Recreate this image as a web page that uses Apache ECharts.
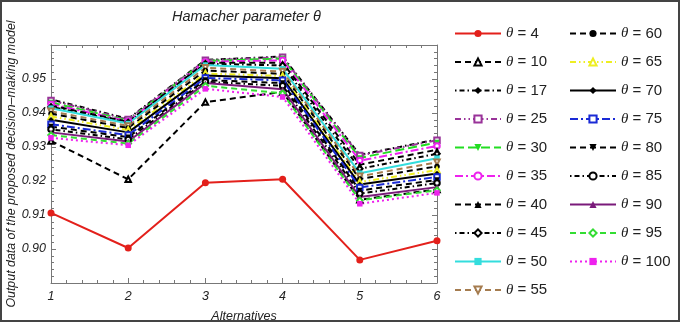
<!DOCTYPE html>
<html>
<head>
<meta charset="utf-8">
<script src="https://cdn.jsdelivr.net/npm/echarts@6/dist/echarts.min.js"></script>
<style>
html,body{margin:0;padding:0;background:#fff;}
#c{width:685px;height:325px;}
</style>
</head>
<body>
<div id="c"></div>
<script>
// ---- data ----
const alternatives = [1, 2, 3, 4, 5, 6];
const yTicks = [0.90, 0.91, 0.92, 0.93, 0.94, 0.95];
const theta4   = [0.9106, 0.9003, 0.9195, 0.9205, 0.8968, 0.9024];
const theta10  = [0.9318, 0.9205, 0.9432, 0.9462, 0.9145, 0.9175];
const theta17  = [0.9440, 0.9383, 0.9556, 0.9566, 0.9277, 0.9322];
const theta25  = [0.9437, 0.9381, 0.9555, 0.9564, 0.9275, 0.9320];
const theta30  = [0.9431, 0.9378, 0.9553, 0.9560, 0.9268, 0.9313];
const theta35  = [0.9426, 0.9376, 0.9551, 0.9555, 0.9260, 0.9303];
const theta40  = [0.9422, 0.9374, 0.9548, 0.9548, 0.9248, 0.9292];
const theta45  = [0.9418, 0.9372, 0.9545, 0.9540, 0.9236, 0.9280];
const theta50  = [0.9414, 0.9369, 0.9541, 0.9530, 0.9223, 0.9267];
const theta55  = [0.9405, 0.9362, 0.9533, 0.9522, 0.9214, 0.9255];
const theta60  = [0.9398, 0.9356, 0.9525, 0.9515, 0.9206, 0.9243];
const theta65  = [0.9390, 0.9350, 0.9516, 0.9509, 0.9197, 0.9232];
const theta70  = [0.9380, 0.9343, 0.9510, 0.9502, 0.9190, 0.9222];
const theta75  = [0.9367, 0.9335, 0.9503, 0.9496, 0.9181, 0.9212];
const theta80  = [0.9360, 0.9329, 0.9497, 0.9488, 0.9172, 0.9203];
const theta85  = [0.9352, 0.9322, 0.9492, 0.9480, 0.9163, 0.9194];
const theta90  = [0.9343, 0.9316, 0.9488, 0.9470, 0.9153, 0.9182];
const theta95  = [0.9335, 0.9310, 0.9480, 0.9458, 0.9143, 0.9173];
const theta100 = [0.9327, 0.9305, 0.9471, 0.9447, 0.9133, 0.9165];

// ---- styles ----
const DASH = [6, 4], DOTDASH = [1.5, 3, 5, 3], DASHDOTDOT = [6, 3, 1.5, 3, 1.5, 3],
      LONGDASH = [9, 4], DASHDOT = [8, 3, 2, 3], DOT = [2, 3];
const defs = [
  {n: '4',   d: theta4,   c: '#e3201b', t: 'solid',    s: 'circle'},
  {n: '10',  d: theta10,  c: '#000000', t: DASH,       s: 'emptyTriangle'},
  {n: '17',  d: theta17,  c: '#000000', t: DOTDASH,    s: 'diamond'},
  {n: '25',  d: theta25,  c: '#993399', t: DASHDOTDOT, s: 'emptyRect'},
  {n: '30',  d: theta30,  c: '#22dd22', t: LONGDASH,   s: 'triangle', r: 180},
  {n: '35',  d: theta35,  c: '#ee22ee', t: DASHDOT,    s: 'emptyCircle'},
  {n: '40',  d: theta40,  c: '#000000', t: DASH,       s: 'triangle'},
  {n: '45',  d: theta45,  c: '#000000', t: DOTDASH,    s: 'emptyDiamond'},
  {n: '50',  d: theta50,  c: '#33dddd', t: 'solid',    s: 'rect'},
  {n: '55',  d: theta55,  c: '#a57c4f', t: DASH,       s: 'emptyTriangle', r: 180},
  {n: '60',  d: theta60,  c: '#000000', t: DASH,       s: 'circle'},
  {n: '65',  d: theta65,  c: '#eeee22', t: DASHDOTDOT, s: 'emptyTriangle'},
  {n: '70',  d: theta70,  c: '#000000', t: 'solid',    s: 'diamond'},
  {n: '75',  d: theta75,  c: '#1a2ad6', t: DASHDOT,    s: 'emptyRect'},
  {n: '80',  d: theta80,  c: '#000000', t: DASH,       s: 'triangle', r: 180},
  {n: '85',  d: theta85,  c: '#000000', t: DOTDASH,    s: 'emptyCircle'},
  {n: '90',  d: theta90,  c: '#7a1a7a', t: 'solid',    s: 'triangle'},
  {n: '95',  d: theta95,  c: '#33dd33', t: DASH,       s: 'emptyDiamond'},
  {n: '100', d: theta100, c: '#ee22ee', t: DOT,        s: 'rect'}
];

const FONT = 'Liberation Sans, Arial, sans-serif';
const series = defs.map(o => ({
  name: 'θ = ' + o.n,
  type: 'line',
  data: alternatives.map((x, i) => [x, o.d[i]]),
  symbol: o.s,
  symbolSize: o.n === '4' ? 7 : 5.5,
  symbolRotate: o.r || 0,
  color: o.c,
  lineStyle: {color: o.c, width: 2, type: o.t},
  itemStyle: {color: o.c, borderWidth: 1},
  animation: false
}));

const legendText = {
  fontSize: 15, fontFamily: FONT, color: '#222',
  rich: {
    i: {fontStyle: 'italic', fontFamily: 'Liberation Serif, serif', fontSize: 15, color: '#222', lineHeight: 16},
    n: {fontSize: 15, fontFamily: FONT, color: '#222', lineHeight: 16}
  }
};
const legendFmt = name => '{i|θ}{n| = ' + name.split('= ')[1] + '}';
const legendBase = {
  orient: 'vertical', top: 26, itemWidth: 46, itemHeight: 9, itemGap: 13.5,
  textStyle: legendText, formatter: legendFmt, selectedMode: false, padding: 0
};

const axisLine = {show: true, lineStyle: {color: '#777', width: 1}};
const tickStyle = {lineStyle: {color: '#777', width: 1}};

const option = {
  backgroundColor: '#fff',
  animation: false,
  title: {
    text: 'Hamacher parameter θ', left: 167, top: 4,
    textStyle: {fontSize: 14.5, fontStyle: 'italic', fontWeight: 'normal', fontFamily: FONT, color: '#222'}
  },
  grid: {left: 51, right: 248, top: 45, bottom: 42, outerBoundsMode: 'none', containLabel: false},
  legend: [
    Object.assign({}, legendBase, {left: 454, data: defs.slice(0, 10).map(o => 'θ = ' + o.n)}),
    Object.assign({}, legendBase, {left: 569, data: defs.slice(10).map(o => 'θ = ' + o.n)})
  ],
  xAxis: [
    {
      type: 'value', min: 1, max: 6, interval: 1, position: 'bottom',
      name: 'Alternatives', nameLocation: 'middle', nameGap: 27, nameMoveOverlap: false,
      nameTextStyle: {fontSize: 12.5, fontStyle: 'italic', fontFamily: FONT, color: '#222'},
      axisLine: axisLine,
      axisTick: Object.assign({inside: true, length: 5}, tickStyle),
      minorTick: Object.assign({show: true, splitNumber: 5, length: 3}, tickStyle),
      splitLine: {show: false},
      axisLabel: {fontSize: 12.5, fontStyle: 'italic', fontFamily: FONT, color: '#222', margin: 7,
        formatter: v => String(Math.round(v))}
    },
    {
      type: 'value', min: 1, max: 6, interval: 1, position: 'top',
      axisLine: axisLine,
      axisTick: Object.assign({inside: true, length: 5}, tickStyle),
      minorTick: Object.assign({show: true, splitNumber: 5, length: 3}, tickStyle),
      splitLine: {show: false}, axisLabel: {show: false}
    }
  ],
  yAxis: [
    {
      type: 'value', min: 0.89, max: 0.96, interval: 0.01, position: 'left',
      name: 'Output data of the proposed decision–making model', nameLocation: 'middle',
      nameGap: 33, nameMoveOverlap: false,
      nameTextStyle: {fontSize: 12.4, fontStyle: 'italic', fontFamily: FONT, color: '#222'},
      axisLine: axisLine,
      axisTick: Object.assign({inside: true, length: 5}, tickStyle),
      minorTick: Object.assign({show: true, splitNumber: 5, length: 3}, tickStyle),
      splitLine: {show: false},
      axisLabel: {fontSize: 12.5, fontStyle: 'italic', fontFamily: FONT, color: '#222', margin: 5,
        formatter: v => {
          const r = Math.round(v * 100) / 100;
          return yTicks.some(t => Math.abs(t - r) < 1e-6) ? r.toFixed(2) : '';
        }}
    },
    {
      type: 'value', min: 0.89, max: 0.96, interval: 0.01, position: 'right',
      axisLine: axisLine,
      axisTick: Object.assign({inside: true, length: 5}, tickStyle),
      minorTick: Object.assign({show: true, splitNumber: 5, length: 3}, tickStyle),
      splitLine: {show: false}, axisLabel: {show: false}
    }
  ],
  graphic: [{
    type: 'rect', shape: {x: 1, y: 1, width: 678, height: 320},
    style: {fill: 'none', stroke: '#444', lineWidth: 2}, silent: true, z: 100
  }],
  series: series
};

const chart = echarts.init(document.getElementById('c'), null, {renderer: 'canvas'});
chart.setOption(option);
</script>
</body>
</html>
